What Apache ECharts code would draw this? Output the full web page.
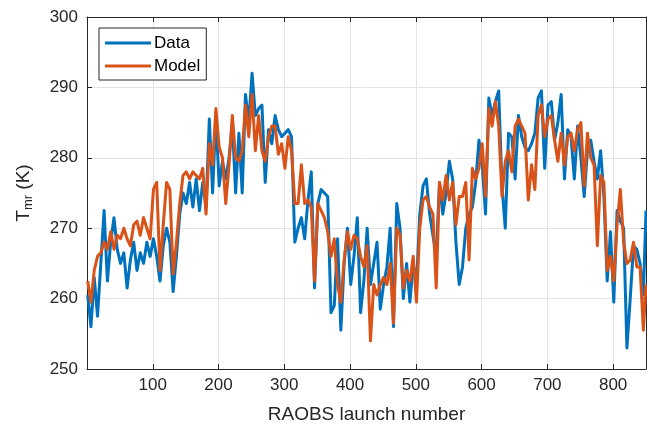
<!DOCTYPE html>
<html><head><meta charset="utf-8">
<script src="https://cdn.jsdelivr.net/npm/echarts@6/dist/echarts.min.js"></script>
<style>html,body{margin:0;padding:0;background:#fff}#c{width:647px;height:429px}</style>
</head><body><div id="c"></div>
<script>
var launch = [1,6,11,16,21,26,31,36,41,46,51,56,61,66,71,76,81,86,91,96,101,106,111,116,121,126,131,136,141,146,151,156,161,166,171,176,181,186,191,196,201,206,211,216,221,226,231,236,241,246,251,256,261,266,271,276,281,286,291,296,301,306,311,316,321,326,331,336,341,346,351,356,361,366,371,376,381,386,391,396,401,406,411,416,421,426,431,436,441,446,451,456,461,466,471,476,481,486,491,496,501,506,511,516,521,526,531,536,541,546,551,556,561,566,571,576,581,586,591,596,601,606,611,616,621,626,631,636,641,646,651,656,661,666,671,676,681,686,691,696,701,706,711,716,721,726,731,736,741,746,751,756,761,766,771,776,781,786,791,796,801,806,811,816,821,826,831,836,841,846,850];
var dataT = [260.5,256,263,257.5,265,272.5,262.5,268,271.5,267,265,266.5,261.5,265.5,268,264,266.5,265,268,266,268.5,266,262.5,267.5,270,268,261,266,272,275,273.5,276.5,273,277,272.5,276.5,273,285.5,275,286,276,279.5,277,280,285,275,283.5,275,289,285,292,286,287,287.5,276.5,284,282,286,284,283,283.5,284,283,268,270,271.5,268.5,274,278,261.5,273.5,275.5,275,274.5,258,259,268.5,255.5,265,270,262,266,271.5,258,262.5,270,262,265,268,258.5,262,264.5,270,256,273.5,270,260,265,259.5,265,262,272,276,277,272,269,266,276.5,272,275,279.5,277,268,262,264.5,270,272,273,276.5,282.5,279,272,288.5,286,288,289.5,276,270,283.5,283,277,286,283,281.5,281,282,283.5,288.5,289.5,278.5,287.5,288,282.5,285,289,277,284,283,277,284.5,280,274.5,281,282.5,279.5,277,281,274.5,262.5,269.5,259.5,272.5,271,270,253,260,267.5,267,265,260.5,272.5];
var modelT = [262.5,259.5,264,266,266.5,268,267,269.5,267,269,268.5,270,268.5,267.5,270.5,271,269,271.5,270,268.5,275.5,276.5,264,270.5,276.5,275.5,263.5,268,273.5,277.5,278,277,278,277.5,277,278.5,272,282,279,287,281.5,280,273.5,279,286,280,279.5,281,287.5,283,289,281,286,281,279.5,283,284.5,284.5,280.5,282,278.5,283,281,273.5,273.5,279,273.5,274,273,262.5,273.5,272.5,271.5,269.5,266,268.5,262,259.5,265.5,269.5,267,269,268.5,266,264.5,267.5,254,262,260.5,262,263,262,265,256.5,270,269,261.5,264,262.5,266,259.5,270,274,274.5,273,272,261.5,276.5,274,277.5,274,276.5,270.5,274.5,274.5,276.5,265.5,278.5,277,278.5,282,274.5,287,284.5,288,284.5,274.5,279.5,281,278,284.5,285.5,284.5,283.5,274,279,275.5,286,287.5,283,285.5,286,282.5,279.5,283.5,279,283,283.5,281,284,285,276,283.5,280,279,267.5,277.5,276.5,264,266,262.5,270.5,275.5,268,265,265.5,268,264.5,264.5,255.5,262];
var seriesNames = ['Data', 'Model'];
var yTicks = [250, 260, 270, 280, 290, 300];

var axisColor = '#262626';
var font = '"Liberation Sans", Arial, Helvetica, sans-serif';
var chart = echarts.init(document.getElementById('c'), null, {renderer: 'canvas'});
function pairs(v){ return launch.map(function(x, i){ return [x, v[i]]; }); }
var baseX = {type: 'value', min: 0, max: 850, interval: 100};
var baseY = {type: 'value', min: yTicks[0], max: yTicks[yTicks.length-1], interval: 10};
chart.setOption({
  animation: false,
  textStyle: {fontFamily: font},
  grid: {left: 87, right: 1, top: 17, bottom: 60, containLabel: false},
  legend: {
    data: seriesNames, orient: 'vertical', left: 99, top: 28,
    icon: 'rect', itemWidth: 46, itemHeight: 3, itemGap: 3,
    backgroundColor: '#fff', borderColor: '#262626', borderWidth: 1, borderRadius: 0,
    padding: [5, 6, 4, 6],
    textStyle: {fontFamily: font, fontSize: 17, color: '#000', lineHeight: 20, padding: [0,0,0,-2]}
  },
  xAxis: [
    Object.assign({}, baseX, {
      position: 'bottom',
      name: 'RAOBS launch number', nameLocation: 'middle', nameGap: 36,
      nameTextStyle: {fontFamily: font, fontSize: 19, color: axisColor},
      axisLine: {show: true, onZero: false, lineStyle: {color: axisColor, width: 1}},
      axisTick: {show: true, inside: true, length: 5, lineStyle: {color: axisColor}},
      axisLabel: {show: true, showMinLabel: false, showMaxLabel: false, margin: 8, fontSize: 17, color: axisColor, fontFamily: font},
      splitLine: {show: true, lineStyle: {color: '#e3e3e3', width: 1}}
    }),
    Object.assign({}, baseX, {
      position: 'top',
      axisLine: {show: true, onZero: false, lineStyle: {color: axisColor, width: 1}},
      axisTick: {show: true, inside: true, length: 5, lineStyle: {color: axisColor}},
      axisLabel: {show: false}, splitLine: {show: false}
    })
  ],
  yAxis: [
    Object.assign({}, baseY, {
      position: 'left',
      name: '{t|T}{s|mr}{t| (K)}', nameLocation: 'middle', nameGap: 52, nameRotate: 90,
      nameTextStyle: {fontFamily: font, fontSize: 19, color: axisColor,
        rich: {t: {fontFamily: font, fontSize: 19, color: axisColor, verticalAlign: 'middle'},
               s: {fontFamily: font, fontSize: 13, color: axisColor, verticalAlign: 'bottom', padding: [10, 0, 0, 0]}}},
      axisLine: {show: true, onZero: false, lineStyle: {color: axisColor, width: 1}},
      axisTick: {show: true, inside: true, length: 5, lineStyle: {color: axisColor}},
      axisLabel: {show: true, margin: 9, fontSize: 17, color: axisColor, fontFamily: font},
      splitLine: {show: true, lineStyle: {color: '#e3e3e3', width: 1}}
    }),
    Object.assign({}, baseY, {
      position: 'right',
      axisLine: {show: true, onZero: false, lineStyle: {color: axisColor, width: 1}},
      axisTick: {show: true, inside: true, length: 5, lineStyle: {color: axisColor}},
      axisLabel: {show: false}, splitLine: {show: false}
    })
  ],
  series: [
    {name: seriesNames[0], type: 'line', xAxisIndex: 0, yAxisIndex: 0, data: pairs(dataT),
     showSymbol: false, symbol: 'none', color: '#0072BD', lineStyle: {width: 3, color: '#0072BD', join: 'round'}, z: 2},
    {name: seriesNames[1], type: 'line', xAxisIndex: 0, yAxisIndex: 0, data: pairs(modelT),
     showSymbol: false, symbol: 'none', color: '#D95319', lineStyle: {width: 3, color: '#D95319', join: 'round'}, z: 3}
  ]
});
</script></body></html>
